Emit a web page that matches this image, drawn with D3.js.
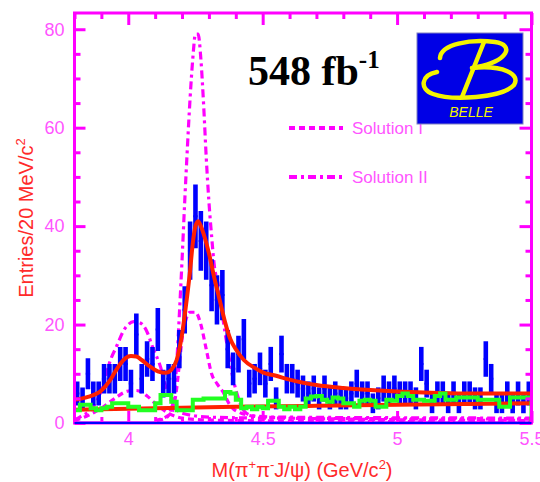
<!DOCTYPE html>
<html>
<head>
<meta charset="utf-8">
<script src="https://cdn.jsdelivr.net/npm/d3@7"></script>
<style>
  body { margin: 0; background: #fff; }
  svg { display: block; }
</style>
</head>
<body>
<script>
// M(pi+ pi- J/psi) spectrum, 20 MeV bins from 3.80 to 5.50 GeV

// Data
const binLo = 3.8, binW = 0.02;
const counts = [6, 5, 10, 6, 6, 9, 9, 9, 12, 12,
    8, 18, 9, 13, 12, 19, 8, 9, 9, 15,
    23, 35, 42, 37, 35, 28, 25, 26, 15, 11,
    14, 17, 8, 9, 11, 8, 12, 5, 14, 9,
    9, 8, 7, 6, 7, 5, 7, 5, 6, 5,
    5, 6, 8, 6, 6, 4, 5, 7, 6, 7,
    6, 6, 6, 5, 12, 8, 4, 6, 6, 4,
    6, 4, 6, 6, 5, 5, 13, 9, 4, 4,
    6, 4, 6, 4, 6];
// J/psi sideband histogram
const sideband = [2.6, 3.7, 3.7, 3.0, 2.6, 3.0, 3.3, 4.0, 4.0, 4.0,
    3.3, 3.3, 2.6, 2.6, 2.6, 4.0, 5.7, 5.7, 4.3, 2.6,
    2.6, 2.6, 4.7, 4.7, 5.0, 5.0, 5.0, 5.0, 6.3, 6.0,
    4.7, 3.0, 3.3, 2.8, 3.3, 3.0, 4.5, 4.5, 3.3, 2.8,
    3.3, 2.8, 3.3, 5.0, 5.4, 5.5, 4.7, 4.3, 5.2, 5.0,
    4.0, 4.0, 3.3, 4.5, 4.7, 4.5, 3.3, 3.3, 4.7, 4.5,
    5.5, 6.0, 5.5, 4.7, 4.7, 4.5, 4.5, 5.5, 6.0, 4.7,
    4.7, 5.2, 5.2, 5.2, 5.2, 4.7, 4.7, 4.7, 4.7, 3.3,
    3.3, 5.2, 5.2, 5.2, 5.2];

// fit curves: [mass, entries]
const fitTotal = [[3.80, 4.7], [3.85, 5.3], [3.90, 6.6], [3.93, 8.5], [3.95, 10.3], [3.97, 12],
    [3.99, 13.2], [4.01, 13.6], [4.03, 13.5], [4.05, 12.8], [4.08, 11.5], [4.11, 10.5],
    [4.14, 10.2], [4.16, 10.8], [4.18, 12.8], [4.20, 18], [4.215, 24], [4.23, 31],
    [4.24, 36.5], [4.25, 40], [4.26, 41], [4.27, 40], [4.28, 38.5], [4.30, 34.5],
    [4.32, 29.5], [4.34, 25], [4.36, 20.5], [4.38, 17], [4.40, 15], [4.43, 12.8],
    [4.47, 11.2], [4.50, 10.3], [4.55, 9.6], [4.60, 8.8], [4.70, 7.7], [4.80, 7.1],
    [4.90, 6.7], [5.00, 6.4], [5.10, 6.2], [5.25, 6.0], [5.40, 6.0], [5.50, 6.0]];
const fitBkg = [[3.80, 2.7], [4.00, 2.9], [4.20, 3.1], [4.40, 3.3], [4.70, 3.5],
    [5.00, 3.7], [5.50, 4.0]];

// Solution I components (dashed)
const sol1Low = [[3.80, 0.5], [3.85, 1.5], [3.90, 3], [3.95, 5], [4.00, 6.5], [4.03, 6.6],
    [4.07, 5.5], [4.10, 4], [4.15, 2], [4.20, 1], [4.30, 0.6], [4.60, 0.4], [5.50, 0.2]];
const sol1High = [[4.10, 0.5], [4.16, 2], [4.18, 7], [4.19, 12], [4.20, 17], [4.21, 20],
    [4.23, 22.5], [4.25, 22.5], [4.27, 20], [4.29, 15], [4.31, 10], [4.33, 8], [4.35, 6.5],
    [4.38, 3.5], [4.42, 2], [4.50, 1.2], [4.80, 0.8], [5.50, 0.5]];
// Solution II components (dash-dot)
const sol2Low = [[3.80, 0.5], [3.82, 1.2], [3.87, 3.3], [3.905, 7.3], [3.93, 12.2],
    [3.96, 16], [3.98, 18.5], [4.00, 20], [4.02, 20.6], [4.045, 20.3], [4.07, 18.5],
    [4.09, 15.5], [4.12, 11.4], [4.14, 7.3], [4.17, 3.5], [4.20, 2], [4.30, 1.2],
    [4.50, 1], [5.50, 0.8]];
const sol2High = [[4.10, 0.5], [4.14, 1], [4.16, 3], [4.17, 5], [4.18, 12], [4.19, 22],
    [4.20, 33], [4.21, 45], [4.22, 56], [4.23, 66], [4.24, 74], [4.25, 79], [4.26, 79],
    [4.27, 74], [4.28, 65], [4.29, 54], [4.30, 45], [4.31, 38], [4.32, 32], [4.335, 28],
    [4.35, 22], [4.37, 15], [4.39, 9], [4.41, 5], [4.43, 2.5], [4.46, 1.5], [4.55, 1.2],
    [5.50, 1]];

const yMajor = [0, 20, 40, 60, 80];
const xMajor = [4, 4.5, 5, 5.5];

// SVG variables
const width = 540,
    height = 482;
const plotLeft = 74.5, plotRight = 531.5, plotTop = 13, plotBottom = 423;

const magenta = "#ff00ff",
    labelPink = "#ff55ff",
    titleRed = "#ff2a2a";

const svg = d3.select("body").append("svg")
    .attr("width", width)
    .attr("height", height);

const x = d3.scaleLinear().domain([3.8, 5.5]).range([plotLeft, plotRight]);
const y = d3.scaleLinear().domain([0, 83.3]).range([plotBottom, plotTop]);

svg.append("clipPath").attr("id", "plot")
    .append("rect")
    .attr("x", plotLeft).attr("y", plotTop)
    .attr("width", plotRight - plotLeft).attr("height", plotBottom - plotTop);

const plot = svg.append("g").attr("clip-path", "url(#plot)");

const line = d3.line()
    .x(d => x(d[0]))
    .y(d => y(d[1]))
    .curve(d3.curveMonotoneX);

// magenta signal components
const comps = [
    [sol1Low, "6,4"], [sol1High, "6,4"],
    [sol2Low, "8,4,3,4"], [sol2High, "8,4,3,4"]
];
comps.forEach(([d, dash]) => {
    plot.append("path")
        .attr("d", line(d))
        .attr("fill", "none")
        .attr("stroke", magenta)
        .attr("stroke-width", 3.2)
        .attr("stroke-dasharray", dash);
});

// data points with sqrt(N) errors
const pts = plot.append("g");
counts.forEach((n, i) => {
    const lo = binLo + i * binW, mid = lo + binW / 2;
    const err = Math.sqrt(n);
    pts.append("line")
        .attr("x1", x(mid)).attr("x2", x(mid))
        .attr("y1", y(n - err)).attr("y2", y(n + err))
        .attr("stroke", "#0000ff")
        .attr("stroke-width", 4.6);
    pts.append("line")
        .attr("x1", x(lo + 0.002)).attr("x2", x(lo + binW - 0.002))
        .attr("y1", y(n)).attr("y2", y(n))
        .attr("stroke", "#0000ff")
        .attr("stroke-width", 2);
});

// fit curves
[fitTotal, fitBkg].forEach(d => {
    plot.append("path")
        .attr("d", line(d))
        .attr("fill", "none")
        .attr("stroke", "#ff2000")
        .attr("stroke-width", 4);
});

// sideband histogram
const steps = sideband.map((v, i) => [binLo + i * binW, v]);
steps.push([5.5, sideband[sideband.length - 1]]);
const stepLine = d3.line()
    .x(d => x(d[0]))
    .y(d => y(d[1]))
    .curve(d3.curveStepAfter);
plot.append("path")
    .attr("d", stepLine(steps) + "L" + x(5.5) + "," + y(0))
    .attr("fill", "none")
    .attr("stroke", "#22ff22")
    .attr("stroke-width", 4);

// zero line
plot.append("line")
    .attr("x1", plotLeft).attr("x2", plotRight)
    .attr("y1", y(0)).attr("y2", y(0))
    .attr("stroke", "#0000ff")
    .attr("stroke-width", 3);

// axes, ticks pointing inward
const fmtX = d => d3.format("")(d);
const yMinor = d3.range(5, 85, 5).filter(v => v % 20 !== 0);
const xMinor = d3.range(38, 56).map(v => v / 10).filter(v => !xMajor.some(m => Math.abs(m - v) < 1e-6));

const addAxis = (axis, tx, ty, cls) => {
    const g = svg.append("g")
        .attr("class", cls)
        .attr("transform", `translate(${tx},${ty})`)
        .call(axis);
    g.select(".domain").remove();
    g.selectAll("line").attr("stroke", magenta).attr("stroke-width", 3);
    g.selectAll("text")
        .attr("fill", labelPink)
        .style("font-family", "'Liberation Sans', Arial, sans-serif")
        .style("font-size", "18px");
    return g;
};

addAxis(d3.axisLeft(y).tickValues(yMajor).tickSize(-11).tickPadding(10), plotLeft, 0, "yl");
addAxis(d3.axisLeft(y).tickValues(yMinor).tickSize(-6).tickFormat(""), plotLeft, 0, "ylm");
addAxis(d3.axisRight(y).tickValues(yMajor).tickSize(-12).tickFormat(""), plotRight, 0, "yr");
addAxis(d3.axisRight(y).tickValues(yMinor).tickSize(-6).tickFormat(""), plotRight, 0, "yrm");
addAxis(d3.axisBottom(x).tickValues(xMajor).tickSize(-12).tickPadding(9).tickFormat(fmtX), 0, plotBottom, "xb");
addAxis(d3.axisBottom(x).tickValues(xMinor).tickSize(-6).tickFormat(""), 0, plotBottom, "xbm");
addAxis(d3.axisTop(x).tickValues(xMajor).tickSize(-12).tickFormat(""), 0, plotTop, "xt");
addAxis(d3.axisTop(x).tickValues(xMinor).tickSize(-6).tickFormat(""), 0, plotTop, "xtm");

// frame
svg.append("rect")
    .attr("x", plotLeft).attr("y", plotTop)
    .attr("width", plotRight - plotLeft).attr("height", plotBottom - plotTop)
    .attr("fill", "none")
    .attr("stroke", magenta)
    .attr("stroke-width", 3);
svg.append("line")
    .attr("x1", plotLeft).attr("x2", plotRight)
    .attr("y1", plotBottom).attr("y2", plotBottom)
    .attr("stroke", "#0000ff")
    .attr("stroke-width", 2);

// axis titles
const sans = "'Liberation Sans', Arial, sans-serif";
const xt = svg.append("text")
    .attr("x", 302).attr("y", 477)
    .attr("text-anchor", "middle")
    .attr("fill", titleRed)
    .style("font-family", sans)
    .style("font-size", "20px");
xt.append("tspan").text("M(π");
xt.append("tspan").attr("dy", -8).style("font-size", "13px").text("+");
xt.append("tspan").attr("dy", 8).text("π");
xt.append("tspan").attr("dy", -8).style("font-size", "13px").text("-");
xt.append("tspan").attr("dy", 8).text("J/ψ) (GeV/c");
xt.append("tspan").attr("dy", -8).style("font-size", "13px").text("2");
xt.append("tspan").attr("dy", 8).text(")");

const yt = svg.append("text")
    .attr("transform", "translate(33,218) rotate(-90)")
    .attr("text-anchor", "middle")
    .attr("fill", titleRed)
    .style("font-family", sans)
    .style("font-size", "20px");
yt.append("tspan").text("Entries/20 MeV/c");
yt.append("tspan").attr("dy", -8).style("font-size", "13px").text("2");

// luminosity label
const lum = svg.append("text")
    .attr("x", 248).attr("y", 85)
    .attr("fill", "#000")
    .style("font-family", "'Liberation Serif', 'Times New Roman', serif")
    .style("font-weight", "bold")
    .style("font-size", "42px");
lum.append("tspan").text("548 fb");
lum.append("tspan").attr("dy", -17).style("font-size", "25px").text("-1");

// legend
const legend = [["Solution I", "6,4", 128], ["Solution II", "8,4,3,4", 177]];
legend.forEach(([name, dash, ly]) => {
    svg.append("line")
        .attr("x1", 289).attr("x2", 343)
        .attr("y1", ly).attr("y2", ly)
        .attr("stroke", magenta)
        .attr("stroke-width", 4)
        .attr("stroke-dasharray", dash);
    svg.append("text")
        .attr("x", 352).attr("y", ly + 6)
        .attr("fill", labelPink)
        .style("font-family", sans)
        .style("font-size", "17px")
        .text(name);
});

// Belle logo
const logo = svg.append("g");
logo.append("rect")
    .attr("x", 417).attr("y", 33)
    .attr("width", 106).attr("height", 91)
    .attr("fill", "#0000e6")
    .attr("stroke", "#8080c0")
    .attr("stroke-width", 1);
const yellow = "#f4f400";
[
    "M440,58 C441,44 470,39 495,42 C515,45 508,61 477,67",
    "M484,42 L462,97",
    "M437,72 C421,75 419,89 433,94 C452,101 502,98 514,85 C521,74 503,65 472,68",
].forEach(p => {
    logo.append("path")
        .attr("d", p)
        .attr("fill", "none")
        .attr("stroke", yellow)
        .attr("stroke-width", 4.5)
        .attr("stroke-linecap", "round");
});
logo.append("text")
    .attr("x", 471).attr("y", 117)
    .attr("text-anchor", "middle")
    .attr("fill", yellow)
    .style("font-family", sans)
    .style("font-style", "italic")
    .style("font-size", "14px")
    .text("BELLE");
</script>
</body>
</html>
